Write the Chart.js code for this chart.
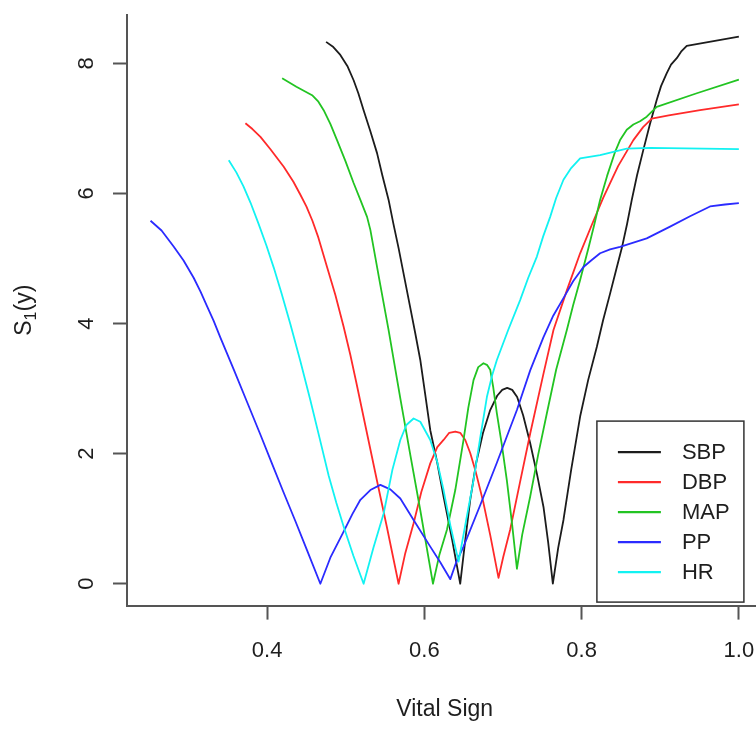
<!DOCTYPE html>
<html>
<head>
<meta charset="utf-8">
<title>S1(y) by vital sign</title>
<script src="https://cdn.jsdelivr.net/npm/chart.js@4.4.1/dist/chart.umd.min.js"></script>
<style>
  html, body { margin: 0; padding: 0; background: #ffffff; overflow: hidden; }
  #wrap { width: 780px; height: 729px; }
</style>
</head>
<body>
<div id="wrap"><canvas id="chart" width="780" height="729"></canvas></div>
<script>
// ---- data: normalised vital sign (x) against S1(y) ----
const sbpX = [0.475, 0.4842, 0.4931, 0.502, 0.51, 0.516, 0.5227, 0.5312, 0.5398, 0.5465, 0.5545, 0.5605, 0.5672, 0.5745, 0.5821, 0.5884, 0.5948, 0.6012, 0.6075, 0.6164, 0.6244, 0.6354, 0.6456, 0.652, 0.6583, 0.6659, 0.6748, 0.6837, 0.6926, 0.699, 0.7053, 0.7117, 0.718, 0.7256, 0.7346, 0.7435, 0.7515, 0.7575, 0.7634, 0.7702, 0.7769, 0.7867, 0.7981, 0.8083, 0.8193, 0.8273, 0.8362, 0.8438, 0.8511, 0.8578, 0.8638, 0.8705, 0.8785, 0.887, 0.8956, 0.901, 0.9083, 0.9137, 0.921, 0.9265, 0.9337, 1.0];
const sbpY = [8.33, 8.25, 8.13, 7.96, 7.74, 7.54, 7.28, 6.96, 6.62, 6.28, 5.90, 5.54, 5.16, 4.71, 4.24, 3.85, 3.44, 2.90, 2.36, 1.86, 1.34, 0.67, 0.0, 0.67, 1.29, 1.86, 2.33, 2.67, 2.89, 2.98, 3.01, 2.98, 2.87, 2.59, 2.16, 1.67, 1.18, 0.63, 0.0, 0.55, 0.98, 1.75, 2.57, 3.13, 3.64, 4.05, 4.46, 4.82, 5.16, 5.53, 5.90, 6.28, 6.67, 7.07, 7.44, 7.65, 7.85, 7.98, 8.08, 8.18, 8.27, 8.41];

const dbpX = [0.3724, 0.3813, 0.3915, 0.4042, 0.4211, 0.4334, 0.4423, 0.4499, 0.4576, 0.4652, 0.4762, 0.4868, 0.4973, 0.5058, 0.5135, 0.5262, 0.5398, 0.5525, 0.5672, 0.5757, 0.5863, 0.5961, 0.6075, 0.6164, 0.6244, 0.6316, 0.6393, 0.6456, 0.652, 0.6583, 0.6647, 0.6752, 0.6837, 0.6943, 0.7003, 0.7091, 0.7218, 0.7346, 0.7515, 0.7642, 0.7812, 0.7981, 0.8134, 0.8277, 0.8464, 0.8658, 0.8782, 0.8892, 0.9108, 0.9506, 1.0];
const dbpY = [7.08, 6.99, 6.87, 6.68, 6.41, 6.18, 5.98, 5.80, 5.58, 5.32, 4.87, 4.44, 3.95, 3.52, 3.09, 2.36, 1.58, 0.86, 0.0, 0.47, 0.93, 1.41, 1.85, 2.10, 2.21, 2.32, 2.34, 2.32, 2.21, 2.01, 1.75, 1.24, 0.75, 0.09, 0.41, 0.83, 1.57, 2.31, 3.23, 3.90, 4.51, 5.08, 5.53, 5.94, 6.42, 6.82, 7.02, 7.15, 7.20, 7.28, 7.37];

const mapX = [0.4191, 0.4372, 0.4572, 0.4652, 0.4719, 0.4804, 0.4889, 0.4995, 0.51, 0.5186, 0.5271, 0.5313, 0.5355, 0.544, 0.5545, 0.5694, 0.5821, 0.5948, 0.6109, 0.619, 0.6287, 0.6393, 0.6498, 0.6558, 0.6625, 0.6685, 0.6752, 0.68, 0.6837, 0.6876, 0.6922, 0.6986, 0.7049, 0.7117, 0.7177, 0.7244, 0.7346, 0.7447, 0.7558, 0.7676, 0.7812, 0.7892, 0.7981, 0.8087, 0.8159, 0.8235, 0.8324, 0.8426, 0.8489, 0.8574, 0.8658, 0.8743, 0.8828, 0.8955, 0.9465, 1.0];
const mapY = [7.77, 7.64, 7.51, 7.41, 7.28, 7.07, 6.82, 6.50, 6.16, 5.90, 5.64, 5.44, 5.16, 4.59, 3.90, 2.85, 1.98, 1.13, 0.0, 0.44, 0.83, 1.44, 2.21, 2.70, 3.13, 3.33, 3.39, 3.36, 3.29, 3.02, 2.62, 2.13, 1.59, 0.90, 0.23, 0.75, 1.34, 1.98, 2.62, 3.29, 3.90, 4.28, 4.67, 5.16, 5.51, 5.90, 6.27, 6.64, 6.82, 6.98, 7.06, 7.11, 7.18, 7.33, 7.54, 7.75];

const ppX = [0.2517, 0.2657, 0.2813, 0.2937, 0.3067, 0.3153, 0.3238, 0.332, 0.3407, 0.3576, 0.3746, 0.3915, 0.4067, 0.4207, 0.436, 0.4512, 0.4677, 0.4804, 0.4973, 0.5084, 0.5186, 0.5313, 0.544, 0.5567, 0.5694, 0.5863, 0.6075, 0.6202, 0.633, 0.6405, 0.6498, 0.6711, 0.6922, 0.7177, 0.7346, 0.7515, 0.7639, 0.7769, 0.7892, 0.8023, 0.8121, 0.8235, 0.8362, 0.8489, 0.8828, 0.9125, 0.9379, 0.9633, 0.9824, 1.0];
const ppY = [5.58, 5.43, 5.18, 4.97, 4.70, 4.49, 4.26, 4.04, 3.78, 3.29, 2.79, 2.29, 1.83, 1.41, 0.96, 0.50, 0.0, 0.40, 0.80, 1.07, 1.29, 1.44, 1.52, 1.45, 1.31, 0.98, 0.57, 0.33, 0.07, 0.33, 0.57, 1.21, 1.86, 2.67, 3.28, 3.79, 4.12, 4.39, 4.65, 4.87, 4.97, 5.08, 5.14, 5.18, 5.31, 5.49, 5.65, 5.80, 5.83, 5.85];

const hrX = [0.3512, 0.361, 0.3699, 0.3788, 0.3889, 0.3991, 0.4084, 0.4182, 0.4296, 0.4423, 0.455, 0.4665, 0.4783, 0.4881, 0.4973, 0.5097, 0.5227, 0.5351, 0.5482, 0.5593, 0.5694, 0.5771, 0.5863, 0.5948, 0.6075, 0.6164, 0.6244, 0.633, 0.6435, 0.652, 0.6625, 0.671, 0.6795, 0.6863, 0.6922, 0.7066, 0.7218, 0.732, 0.7431, 0.7511, 0.76, 0.7676, 0.7769, 0.7867, 0.7981, 0.8235, 0.8574, 0.887, 1.0];
const hrY = [6.51, 6.32, 6.11, 5.86, 5.54, 5.20, 4.86, 4.47, 3.99, 3.42, 2.82, 2.25, 1.66, 1.24, 0.88, 0.43, 0.0, 0.55, 1.08, 1.75, 2.21, 2.44, 2.54, 2.49, 2.21, 1.87, 1.44, 0.90, 0.34, 0.90, 1.59, 2.24, 2.87, 3.21, 3.44, 3.90, 4.36, 4.70, 5.03, 5.34, 5.64, 5.93, 6.21, 6.39, 6.54, 6.59, 6.69, 6.70, 6.68];

const seriesNames = ['SBP', 'DBP', 'MAP', 'PP', 'HR'];
const xTickValues = [0.4, 0.6, 0.8, 1.0];
const yTickValues = [0, 2, 4, 6, 8];

// ---- styling ----
const seriesColors = ['#1c1c1c', '#ff2a2a', '#22c422', '#2b2bff', '#12f2f2'];
const FONT = "'Liberation Sans', Arial, Helvetica, sans-serif";
const TEXT = '#1e1e1e';
const AXIS = '#555555';
const LINE_W = 1.8;

const xsAll = [sbpX, dbpX, mapX, ppX, hrX];
const ysAll = [sbpY, dbpY, mapY, ppY, hrY];

// axis limits padded by 4% of the data range on each side
function padded(arrays) {
  const flat = arrays.flat();
  const lo = Math.min(...flat), hi = Math.max(...flat);
  const pad = (hi - lo) * 0.04;
  return [lo - pad, hi + pad];
}
const [xMin, xMax] = padded(xsAll);
const [yMin, yMax] = padded(ysAll);

const datasets = seriesNames.map((name, i) => ({
  label: name,
  data: xsAll[i].map((x, k) => ({ x: x, y: ysAll[i][k] })),
  borderColor: seriesColors[i],
  backgroundColor: seriesColors[i],
  borderWidth: LINE_W,
  borderJoinStyle: 'round',
  pointRadius: 0,
  pointHoverRadius: 0,
  tension: 0,
  fill: false,
  order: seriesNames.length - i   // later series drawn over earlier ones
}));

// rotated y tick labels and the S1(y) axis title
const yAxisText = {
  id: 'yAxisText',
  afterDraw(chart) {
    const ctx = chart.ctx;
    const area = chart.chartArea;
    const ys = chart.scales.y;
    ctx.save();
    ctx.fillStyle = TEXT;
    ctx.font = '22px ' + FONT;
    ctx.textAlign = 'center';
    ctx.textBaseline = 'alphabetic';
    yTickValues.forEach(v => {
      const py = ys.getPixelForValue(v);
      ctx.save();
      ctx.translate(area.left - 34, py);
      ctx.rotate(-Math.PI / 2);
      ctx.fillText(String(v), 0, 0);
      ctx.restore();
    });

    const cy = (area.top + area.bottom) / 2;
    ctx.translate(31, cy);
    ctx.rotate(-Math.PI / 2);
    const big = '23px ' + FONT, small = '16px ' + FONT;
    ctx.font = big;
    const wS = ctx.measureText('S').width;
    const wP = ctx.measureText('(y)').width;
    ctx.font = small;
    const w1 = ctx.measureText('1').width;
    let x0 = -(wS + w1 + wP) / 2;
    ctx.textAlign = 'left';
    ctx.font = big;  ctx.fillText('S', x0, 0);   x0 += wS;
    ctx.font = small; ctx.fillText('1', x0, 5);  x0 += w1;
    ctx.font = big;  ctx.fillText('(y)', x0, 0);
    ctx.restore();
  }
};

// boxed legend in the lower right of the plot
const boxLegend = {
  id: 'boxLegend',
  afterDraw(chart) {
    const ctx = chart.ctx;
    const area = chart.chartArea;
    const bw = 147, bh = 181;
    const bx = area.right - 18.5 - bw;
    const by = area.bottom - 3.5 - bh;
    ctx.save();
    ctx.fillStyle = '#ffffff';
    ctx.fillRect(bx, by, bw, bh);
    ctx.strokeStyle = '#333333';
    ctx.lineWidth = 1.5;
    ctx.strokeRect(bx, by, bw, bh);
    ctx.font = '22px ' + FONT;
    ctx.textAlign = 'left';
    ctx.textBaseline = 'middle';
    chart.data.datasets.forEach((ds, i) => {
      const ry = by + 31 + i * 30;
      ctx.strokeStyle = ds.borderColor;
      ctx.lineWidth = LINE_W + 0.3;
      ctx.beginPath();
      ctx.moveTo(bx + 21, ry);
      ctx.lineTo(bx + 64, ry);
      ctx.stroke();
      ctx.fillStyle = TEXT;
      ctx.fillText(ds.label, bx + 85, ry + 1);
    });
    ctx.restore();
  }
};

new Chart(document.getElementById('chart'), {
  type: 'line',
  data: { datasets: datasets },
  plugins: [yAxisText, boxLegend],
  options: {
    responsive: false,
    animation: false,
    events: [],
    layout: { padding: { top: 14.8, right: 17.6, bottom: 0, left: 0 } },
    plugins: {
      legend: { display: false },
      tooltip: { enabled: false },
      title: { display: false }
    },
    scales: {
      x: {
        type: 'linear',
        min: xMin,
        max: xMax,
        afterBuildTicks: s => { s.ticks = xTickValues.map(v => ({ value: v })); },
        afterFit: s => { s.height = 123.4; },
        border: { display: true, color: AXIS, width: 2 },
        grid: { display: true, drawOnChartArea: false, drawTicks: true, tickLength: 14, tickColor: AXIS, tickWidth: 2 },
        ticks: {
          autoSkip: false, maxRotation: 0, minRotation: 0, padding: 18,
          color: TEXT, font: { family: FONT, size: 22 },
          callback: v => Number(v).toFixed(1)
        },
        title: {
          display: true, text: 'Vital Sign', color: TEXT,
          font: { family: FONT, size: 23 }, padding: { top: 0, bottom: 6 }
        }
      },
      y: {
        type: 'linear',
        min: yMin,
        max: yMax,
        afterBuildTicks: s => { s.ticks = yTickValues.map(v => ({ value: v })); },
        afterFit: s => { s.width = 127; },
        border: { display: true, color: AXIS, width: 2 },
        grid: { display: true, drawOnChartArea: false, drawTicks: true, tickLength: 14, tickColor: AXIS, tickWidth: 2 },
        ticks: { display: false }
      }
    }
  }
});
</script>
</body>
</html>
